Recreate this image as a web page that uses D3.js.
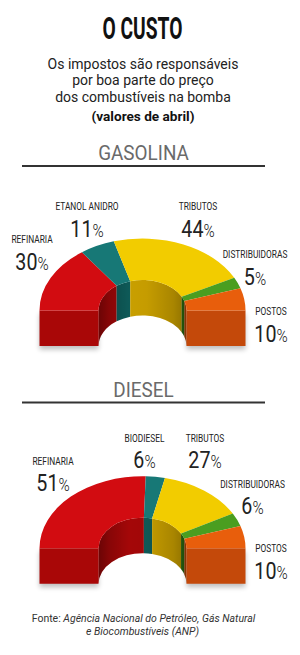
<!DOCTYPE html>
<html><head><meta charset="utf-8">
<script src="https://cdn.jsdelivr.net/npm/d3@7"></script>
<style>body{margin:0;background:#fff}svg{display:block}</style>
</head><body>
<script>
// ---- data ----
const gasCategories = ["REFINARIA", "ETANOL ANIDRO", "TRIBUTOS", "DISTRIBUIDORAS", "POSTOS"];
const gasValues = [30, 11, 44, 5, 10];
const dieselCategories = ["REFINARIA", "BIODIESEL", "TRIBUTOS", "DISTRIBUIDORAS", "POSTOS"];
const dieselValues = [51, 6, 27, 6, 10];
const subtitleLines = ["Os impostos são responsáveis", "por boa parte do preço", "dos combustíveis na bomba"];

// ---- styles / layout ----
const gasColors = {
  top:   ["#d20c11", "#177876", "#f2cc00", "#4a9e20", "#e85e0c"],
  inner: ["#a40708", "#0e5a58", "#c99f00", "#2d6e10", "#b54805"]
};
const dieselColors = gasColors;
const frontLeft = "#a90707", frontRight = "#c4490a";
// label offsets (relative to chart centre): [dx, name baseline dy]
const gasLabelPos = [[-110.5, -67.5], [-55.5, -100.5], [55.5, -100.5], [112.5, -52.5], [128.5, 4.5]];
const dieselLabelPos = [[-89.5, -83.5], [2, -106.5], [62.5, -106.5], [110, -60.5], [128.5, 4]];

const W = 300, H = 655;
const svg = d3.select("body").append("svg").attr("width", W).attr("height", H);
const defs = svg.append("defs");
defs.append("filter").attr("id", "blur")
  .attr("x", "-30%").attr("y", "-50%").attr("width", "160%").attr("height", "200%")
  .append("feGaussianBlur").attr("stdDeviation", 2.5);
const ig = defs.append("linearGradient").attr("id", "innerShade");
[[0, 0.35], [0.12, 0.18], [0.35, 0.0], [0.55, 0.02], [0.85, 0.16], [1, 0.3]].forEach(([o, a]) =>
  ig.append("stop").attr("offset", o).attr("stop-color", "#000").attr("stop-opacity", a));

const FONT = "Roboto, 'Noto Sans', 'DejaVu Sans', sans-serif";
const CX = 142.5;

// ---- title block ----
svg.append("text").attr("transform", `translate(${CX},39) scale(0.62,1)`)
  .attr("text-anchor", "middle").attr("font-family", FONT).attr("font-weight", 700)
  .attr("font-size", 31).attr("fill", "#111").text("O CUSTO");

subtitleLines.forEach((s, i) => {
  svg.append("text").attr("x", CX + 0.5).attr("y", 68.5 + i * 16.8)
    .attr("text-anchor", "middle").attr("font-family", FONT).attr("font-size", 14)
    .attr("fill", "#222").text(s);
});
svg.append("text").attr("x", CX + 0.5).attr("y", 120.5)
  .attr("text-anchor", "middle").attr("font-family", FONT).attr("font-weight", 700)
  .attr("font-size", 13.6).attr("fill", "#111").text("(valores de abril)");

function heading(label, baseline) {
  svg.append("text").attr("transform", `translate(${CX + 1},${baseline}) scale(0.9,1)`)
    .attr("text-anchor", "middle").attr("font-family", FONT).attr("font-size", 21)
    .attr("fill", "#6a6a6a").text(label);
  svg.append("line").attr("x1", 22).attr("x2", 265).attr("y1", baseline + 6).attr("y2", baseline + 6)
    .attr("stroke", "#333").attr("stroke-width", 2);
}
heading("GASOLINA", 160);
heading("DIESEL", 396.5);

// ---- 3D half donut ----
function drawDonut(categories, values, cy, colors, labelPos) {
  const g = svg.append("g");
  const rx = 103, ry = 72, irx = 44, iry = 30.5, h = 35.5;
  const pie = d3.pie().sort(null).startAngle(0).endAngle(Math.PI);
  const arcs = pie(values);
  const P = (a, r, rr, dy = 0) => [CX - r * Math.cos(a), cy - rr * Math.sin(a) + dy];
  const pt = p => p[0].toFixed(2) + "," + p[1].toFixed(2);

  // shadow under front faces
  const frontPath = (a) => {
    const o = P(a, rx, ry), i = P(a, irx, iry);
    return `M${pt(o)}L${pt(i)}L${pt([i[0], i[1] + h])}L${pt([o[0], o[1] + h])}Z`;
  };
  g.append("path").attr("d", frontPath(0) + frontPath(Math.PI))
    .attr("transform", "translate(0,3.5)").attr("fill", "#000").attr("opacity", 0.25)
    .attr("filter", "url(#blur)");

  // inner walls
  const wall = (a0, a1) => {
    const i0 = P(a0, irx, iry), i1 = P(a1, irx, iry);
    return `M${pt(i0)}A${irx},${iry} 0 0 1 ${pt(i1)}L${pt([i1[0], i1[1] + h])}A${irx},${iry} 0 0 0 ${pt([i0[0], i0[1] + h])}Z`;
  };
  g.selectAll("path.inner").data(arcs).join("path").attr("class", "inner")
    .attr("d", d => wall(d.startAngle, d.endAngle))
    .attr("fill", (d, i) => colors.inner[i]);
  g.append("path").attr("d", wall(0, Math.PI)).attr("fill", "url(#innerShade)");

  // front cut faces
  g.append("path").attr("d", frontPath(0)).attr("fill", frontLeft);
  g.append("path").attr("d", frontPath(Math.PI)).attr("fill", frontRight);

  // top faces
  const top = (a0, a1) => {
    const o0 = P(a0, rx, ry), o1 = P(a1, rx, ry), i1 = P(a1, irx, iry), i0 = P(a0, irx, iry);
    return `M${pt(o0)}A${rx},${ry} 0 0 1 ${pt(o1)}L${pt(i1)}A${irx},${iry} 0 0 0 ${pt(i0)}Z`;
  };
  g.selectAll("path.top").data(arcs).join("path").attr("class", "top")
    .attr("d", d => top(d.startAngle, d.endAngle))
    .attr("fill", (d, i) => colors.top[i]);

  // labels
  arcs.forEach((d, i) => {
    const [dx, dy] = labelPos[i];
    g.append("text").attr("transform", `translate(${CX + dx},${cy + dy}) scale(0.76,1)`)
      .attr("text-anchor", "middle").attr("font-family", FONT).attr("font-size", 11)
      .attr("fill", "#222").text(categories[i]);
    const t = g.append("text").attr("transform", `translate(${CX + dx},${cy + dy + 26.5}) scale(0.82,1)`)
      .attr("text-anchor", "middle").attr("font-family", FONT).attr("fill", "#222");
    t.append("tspan").attr("font-size", 24).text(d.data);
    t.append("tspan").attr("font-size", 18.5).attr("font-weight", 300).text("%");
  });
}
drawDonut(gasCategories, gasValues, 310.5, gasColors, gasLabelPos);
drawDonut(dieselCategories, dieselValues, 548.3, dieselColors, dieselLabelPos);

// ---- source ----
const src = svg.append("text").attr("transform", `translate(${CX + 1},622)`)
  .attr("text-anchor", "middle").attr("font-family", FONT).attr("font-size", 10.5).attr("fill", "#333");
src.append("tspan").text("Fonte: ");
src.append("tspan").attr("font-style", "italic").text("Agência Nacional do Petróleo, Gás Natural");
svg.append("text").attr("transform", `translate(${CX},635)`)
  .attr("text-anchor", "middle").attr("font-family", FONT).attr("font-size", 10.5).attr("fill", "#333")
  .attr("font-style", "italic").text("e Biocombustíveis (ANP)");
</script>
</body></html>
